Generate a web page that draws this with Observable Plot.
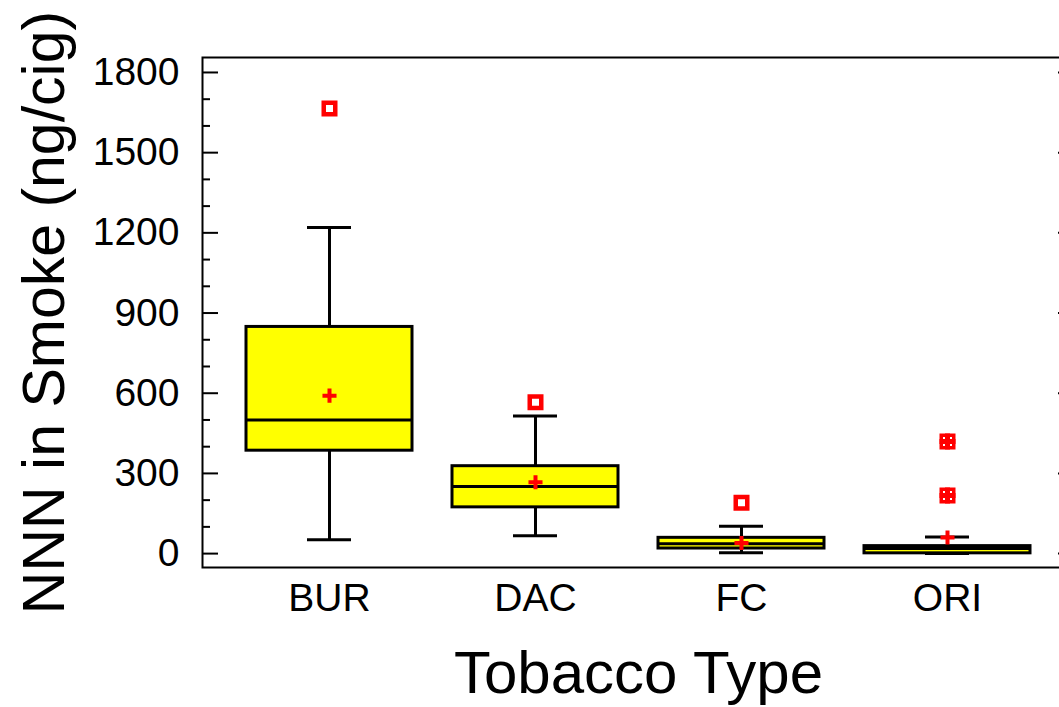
<!DOCTYPE html>
<html>
<head>
<meta charset="utf-8">
<script src="https://cdn.jsdelivr.net/npm/d3@7"></script>
<script src="https://cdn.jsdelivr.net/npm/@observablehq/plot@0.6"></script>
<style>
  html, body { margin: 0; padding: 0; background: #fff; overflow: hidden; }
</style>
</head>
<body>
<div id="chart"></div>
<script>
// NNN yield in mainstream smoke by tobacco type: box summaries
const types = ["BUR", "DAC", "FC", "ORI"];
const q1 = [385, 173, 19, 1];
const medians = [500, 251, 37, 19];
const q3 = [848, 327, 59, 28];
const whiskerLow = [52, 67, 3, 0];
const whiskerHigh = [1220, 515, 102, 62];
const means = [591, 267, 40, 60];

// single outliers
const outlierType = ["BUR", "DAC", "FC"];
const outlierValue = [1665, 566, 190];
// outliers with several tied observations (drawn as a stacked square cluster)
const tiedType = ["ORI", "ORI"];
const tiedValue = [419, 217];

const yTicks = [0, 300, 600, 900, 1200, 1500, 1800];
const yMinorTicks = [100, 200, 400, 500, 700, 800, 1000, 1100, 1300, 1400, 1600, 1700];

const boxes = types.map((t, i) => ({
  type: t, q1: q1[i], median: medians[i], q3: q3[i],
  lo: whiskerLow[i], hi: whiskerHigh[i], mean: means[i]
}));
const outliers = outlierType.map((t, i) => ({type: t, value: outlierValue[i]}));
const tied = tiedType.map((t, i) => ({type: t, value: tiedValue[i]}));

const W = 1059, H = 707;
const mL = 202, mR = -15, mT = 57, mB = 140;
const frameW = W - mR - mL;
const font = "'Liberation Sans', Arial, Helvetica, sans-serif";

const clusterOffsets = [[-2.75, -2.75], [2.75, -2.75], [-2.75, 2.75], [2.75, 2.75]];

const chart = Plot.plot({
  width: W,
  height: H,
  marginLeft: mL,
  marginRight: mR,
  marginTop: mT,
  marginBottom: mB,
  style: {fontFamily: font, background: "white", overflow: "hidden"},
  x: {domain: types, paddingInner: 0.195, paddingOuter: 0.213},
  y: {domain: [-52, 1856]},
  marks: [
    // whiskers
    Plot.ruleX(boxes, {x: "type", y1: "q3", y2: "hi", stroke: "black", strokeWidth: 3}),
    Plot.ruleX(boxes, {x: "type", y1: "lo", y2: "q1", stroke: "black", strokeWidth: 3}),
    Plot.tickY(boxes, {x: "type", y: "hi", stroke: "black", strokeWidth: 3, insetLeft: 61, insetRight: 61}),
    Plot.tickY(boxes, {x: "type", y: "lo", stroke: "black", strokeWidth: 3, insetLeft: 61, insetRight: 61}),
    // interquartile boxes
    Plot.barY(boxes, {x: "type", y1: "q1", y2: "q3", fill: "#ffff00", stroke: "black", strokeWidth: 3}),
    Plot.tickY(boxes, {x: "type", y: "median", stroke: "black", strokeWidth: 3}),
    // means
    Plot.dot(boxes, {x: "type", y: "mean", symbol: "plus", stroke: "red", r: 4.6, strokeWidth: 4}),
    // outliers
    Plot.dot(outliers, {x: "type", y: "value", symbol: "square", fill: "none", stroke: "red", r: 6.5, strokeWidth: 4.5}),
    ...clusterOffsets.map(([ox, oy]) =>
      Plot.dot(tied, {x: "type", y: "value", symbol: "square", fill: "none", stroke: "red", r: 3.95, strokeWidth: 3.5, dx: ox, dy: oy})
    ),
    // inward ticks on left and right edges
    Plot.ruleY(yTicks, {stroke: "black", strokeWidth: 2, insetRight: frameW - 16}),
    Plot.ruleY(yMinorTicks, {stroke: "black", strokeWidth: 2, insetRight: frameW - 8}),
    Plot.ruleY(yTicks, {stroke: "black", strokeWidth: 2, insetLeft: frameW - 16}),
    Plot.ruleY(yMinorTicks, {stroke: "black", strokeWidth: 2, insetLeft: frameW - 8}),
    Plot.frame({stroke: "black", strokeWidth: 2}),
    // tick labels
    Plot.axisY({ticks: yTicks, tickSize: 0, tickPadding: 23, fontSize: 39, label: null, tickFormat: d => String(d)}),
    Plot.axisX({tickSize: 0, tickPadding: 16, fontSize: 39, label: null}),
    // axis titles
    Plot.text(["Tobacco Type"], {frameAnchor: "bottom", dy: 125, lineAnchor: "bottom", fontSize: 60, fill: "black"}),
    Plot.text(["NNN in Smoke (ng/cig)"], {frameAnchor: "left", dx: -139, rotate: -90, lineAnchor: "bottom", textAnchor: "middle", fontSize: 59, fill: "black"})
  ]
});

document.getElementById("chart").appendChild(chart);
</script>
</body>
</html>
